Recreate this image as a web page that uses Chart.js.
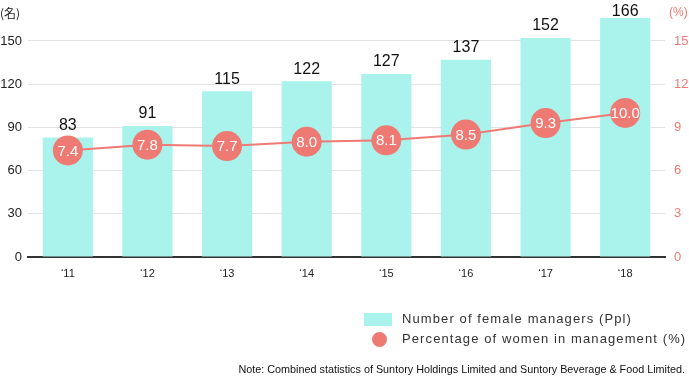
<!DOCTYPE html>
<html>
<head>
<meta charset="utf-8">
<script src="https://cdn.jsdelivr.net/npm/chart.js@4"></script>
<style>
  body { margin: 0; background: #fff; font-family: "Liberation Sans", Arial, sans-serif; }
  #wrap { position: relative; width: 689px; height: 377px; }
  #chart { position: absolute; left: 0; top: 0; }
  .txt { position: absolute; white-space: nowrap; color: #222; }
  .unitL { left: 0; top: 4px; font-size: 12px; font-family: "Noto Sans CJK JP", sans-serif; }
  .unitR { left: 669px; top: 5px; font-size: 12px; color: #ef7a74; }
  .legBox { position: absolute; left: 364px; top: 313px; width: 28px; height: 13px; background: #a9f3ec; }
  .legDot { position: absolute; left: 372px; top: 332px; width: 15px; height: 15px; border-radius: 50%; background: #ef7a74; }
  .leg { left: 402px; font-size: 13px; letter-spacing: 1.1px; color: #333; }
  .note { right: 4px; top: 363px; font-size: 10.8px; color: #111; }
</style>
</head>
<body>
<div id="wrap">
  <canvas id="chart" width="689" height="377"></canvas>
  <div class="txt unitL">(名)</div>
  <div class="txt unitR">(%)</div>
  <div class="legBox"></div>
  <div class="txt leg" style="top:311px">Number of female managers (Ppl)</div>
  <div class="legDot"></div>
  <div class="txt leg" style="top:331px">Percentage of women in management (%)</div>
  <div class="txt note">Note: Combined statistics of Suntory Holdings Limited and Suntory Beverage &amp; Food Limited.</div>
</div>
<script>
const years = ['‘11', '‘12', '‘13', '‘14', '‘15', '‘16', '‘17', '‘18'];
const managers = [83, 91, 115, 122, 127, 137, 152, 166];
const percents = [7.4, 7.8, 7.7, 8.0, 8.1, 8.5, 9.3, 10.0];
const leftTicks = [0, 30, 60, 90, 120, 150];
const rightTicks = [0, 3, 6, 9, 12, 15];

const barColor = '#a9f3ec';
const lineColor = '#ef7a74';

// value labels over bars and inside the circles
const valueLabels = {
  id: 'valueLabels',
  afterDatasetsDraw(chart) {
    const ctx = chart.ctx;
    ctx.save();
    ctx.textAlign = 'center';
    chart.getDatasetMeta(1).data.forEach((bar, i) => {
      ctx.fillStyle = '#111';
      ctx.font = '16px "Liberation Sans", Arial, sans-serif';
      ctx.textBaseline = 'bottom';
      // keep the tallest label inside the canvas
      ctx.fillText(managers[i], bar.x, Math.max(bar.y - 4, 20));
    });
    chart.getDatasetMeta(0).data.forEach((pt, i) => {
      ctx.fillStyle = '#fff';
      ctx.font = '15px "Liberation Sans Narrow", "Liberation Sans", Arial, sans-serif';
      ctx.textBaseline = 'middle';
      ctx.fillText(percents[i].toFixed(1), pt.x, pt.y + 1);
    });
    ctx.restore();
  }
};

function keepTicks(list) {
  return function (scale) {
    scale.ticks = list.map(v => ({ value: v }));
  };
}

new Chart(document.getElementById('chart'), {
  data: {
    labels: years,
    datasets: [
      {
        type: 'line',
        label: 'Percentage of women in management (%)',
        data: percents,
        yAxisID: 'y2',
        borderColor: lineColor,
        borderWidth: 2,
        backgroundColor: lineColor,
        pointRadius: 15,
        pointHoverRadius: 15,
        pointBorderWidth: 0,
        order: 0
      },
      {
        type: 'bar',
        label: 'Number of female managers (Ppl)',
        data: managers,
        yAxisID: 'y',
        backgroundColor: barColor,
        barPercentage: 0.63,
        categoryPercentage: 1,
        order: 1
      }
    ]
  },
  options: {
    responsive: false,
    animation: false,
    layout: { padding: { top: 9, bottom: 90, left: 0, right: 0 } },
    plugins: { legend: { display: false }, tooltip: { enabled: false } },
    scales: {
      x: {
        offset: true,
        grid: { display: false, drawTicks: false },
        border: { color: '#333', width: 2 },
        ticks: { color: '#222', font: { size: 11 }, padding: 10 },
        afterFit(scale) { scale.height = 30; }
      },
      y: {
        position: 'left',
        min: 0,
        max: 168,
        afterBuildTicks: keepTicks(leftTicks),
        grid: { color: '#e2e2e2', drawTicks: false },
        border: { display: false },
        ticks: { color: '#222', font: { size: 13 }, padding: 6 },
        afterFit(scale) { scale.width = 28; scale.paddingTop = 0; scale.paddingBottom = 0; }
      },
      y2: {
        position: 'right',
        min: 0,
        max: 16.8,
        afterBuildTicks: keepTicks(rightTicks),
        grid: { display: false, drawTicks: false },
        border: { display: false },
        ticks: { color: lineColor, font: { size: 13 }, padding: 9 },
        afterFit(scale) { scale.width = 24; scale.paddingTop = 0; scale.paddingBottom = 0; }
      }
    }
  },
  plugins: [valueLabels]
});
</script>
</body>
</html>
